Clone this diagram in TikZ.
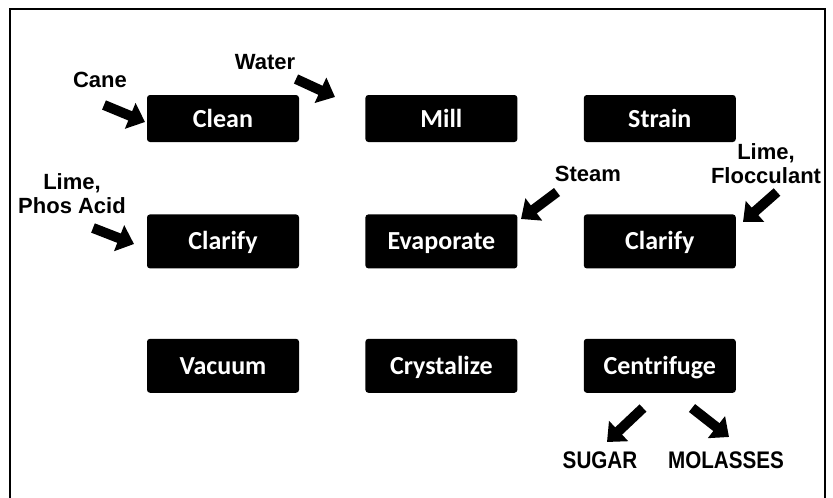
\documentclass[tikz,border=0pt]{standalone}
\usepackage{fontspec}
\setmainfont{Carlito}
\newfontfamily\labelfont{Liberation Sans}
\newfontfamily\narrowfont[FakeStretch=0.86]{Liberation Sans}
\usetikzlibrary{arrows.meta,positioning}

\begin{document}
\begin{tikzpicture}[
    x=1pt, y=-1pt,
    node distance=66pt,
    box/.style={fill=black, rectangle, rounded corners=3pt, minimum width=152pt, minimum height=47pt, align=center, text=white, text height=17pt, text depth=0pt, font=\fontsize{26}{30}\selectfont\bfseries},
    tall/.style={minimum height=54pt},
    lbl/.style={align=center, inner sep=0pt, font=\labelfont\fontsize{22}{24}\selectfont\bfseries},
    outlbl/.style={lbl, font=\narrowfont\fontsize{24}{26}\selectfont\bfseries},
    blockarrow/.style={line width=10pt, -{Triangle[width=27pt,length=16pt]}}
  ]
    \useasboundingbox (0,0) rectangle (833,498);
    \draw[line width=2pt] (10,510) -- (10,9) -- (825,9) -- (825,510);

    \node[box] (clean) at (223,118.5) {Clean};
    \node[box, right=66pt of clean] (mill) {Mill};
    \node[box, right=66pt of mill] (strain) {Strain};
    \node[box, tall, below=72pt of clean] (clarifyA) {Clarify};
    \node[box, tall, right=66pt of clarifyA] (evap) {Evaporate};
    \node[box, tall, right=66pt of evap] (clarifyB) {Clarify};
    \node[box, tall, below=70pt of clarifyA] (vacuum) {Vacuum};
    \node[box, tall, right=66pt of vacuum] (cryst) {Crystalize};
    \node[box, tall, right=66pt of cryst] (centri) {Centrifuge};

    \node[lbl] (cane) at (100,80) {Cane};
    \node[lbl] (water) at (265,62) {Water};
    \node[lbl] (phos) at (72,194) {Lime,\\Phos Acid};
    \node[lbl] (steam) at (588,174) {Steam};
    \node[lbl] (floc) at (766,164) {Lime,\\Flocculant};
    \node[outlbl] (sugar) at (600,460) {SUGAR};
    \node[outlbl] (molasses) at (726,460) {MOLASSES};

    \coordinate (caneT) at (104,105);   \coordinate (caneH) at (145,122);
    \coordinate (waterT) at (296,79);   \coordinate (waterH) at (335,97);
    \coordinate (phosT) at (93,228);    \coordinate (phosH) at (134,244);
    \coordinate (steamT) at (557,192);  \coordinate (steamH) at (521,219);
    \coordinate (flocT) at (777,192);   \coordinate (flocH) at (743,222);
    \coordinate (sugarT) at (643,408);  \coordinate (sugarH) at (607,442);
    \coordinate (molT) at (692,408);    \coordinate (molH) at (729,437);

    \draw[blockarrow] (caneT) -- (caneH);
    \draw[blockarrow] (waterT) -- (waterH);
    \draw[blockarrow] (phosT) -- (phosH);
    \draw[blockarrow] (steamT) -- (steamH);
    \draw[blockarrow] (flocT) -- (flocH);
    \draw[blockarrow] (sugarT) -- (sugarH);
    \draw[blockarrow] (molT) -- (molH);
  \end{tikzpicture}
\end{document}
